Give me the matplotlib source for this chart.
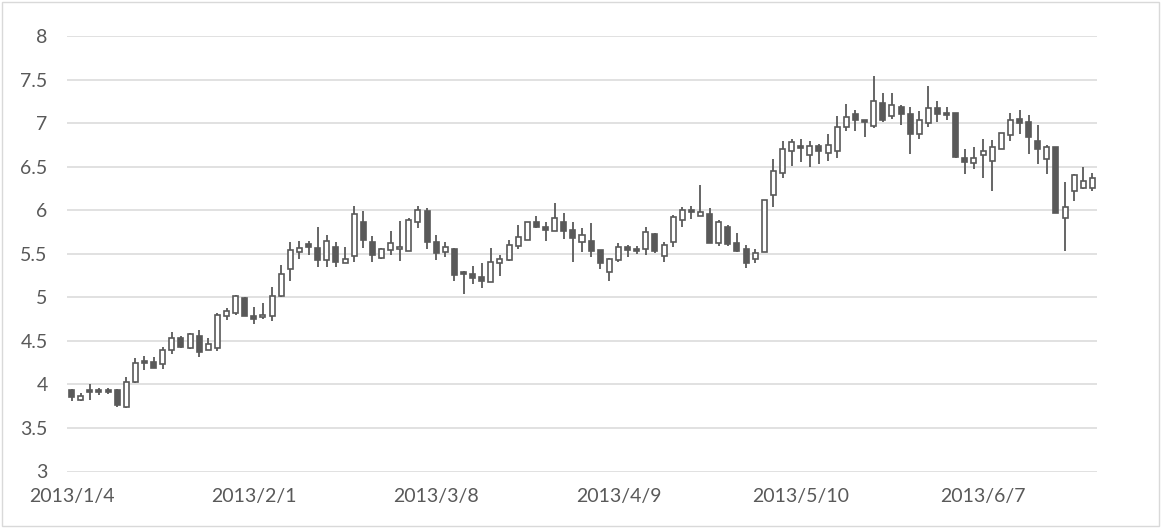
import numpy as np
import matplotlib.pyplot as plt
from matplotlib.patches import Rectangle

# daily OHLC (trading days from 2013/1/4)
opens = [3.94, 3.82, 3.94, 3.93, 3.93, 3.94, 3.74, 4.03, 4.27, 4.26,
         4.23, 4.40, 4.53, 4.42, 4.55, 4.40, 4.42, 4.79, 4.82, 4.99,
         4.78, 4.77, 4.78, 5.01, 5.33, 5.52, 5.61, 5.57, 5.43, 5.58,
         5.39, 5.47, 5.87, 5.64, 5.45, 5.54, 5.55, 5.53, 5.86, 5.99,
         5.63, 5.52, 5.56, 5.29, 5.27, 5.23, 5.18, 5.39, 5.43, 5.59,
         5.66, 5.86, 5.81, 5.76, 5.87, 5.77, 5.64, 5.65, 5.54, 5.29,
         5.43, 5.58, 5.56, 5.55, 5.73, 5.47, 5.64, 5.89, 6.00, 5.93,
         5.96, 5.62, 5.81, 5.62, 5.55, 5.44, 5.52, 6.18, 6.43, 6.68,
         6.74, 6.63, 6.74, 6.66, 6.68, 6.96, 7.11, 7.03, 6.97, 7.23,
         7.08, 7.19, 7.11, 6.88, 7.00, 7.17, 7.12, 7.12, 6.60, 6.54,
         6.63, 6.57, 6.70, 6.86, 7.05, 7.01, 6.80, 6.59, 6.72, 5.91,
         6.22, 6.26, 6.26]
highs = [3.95, 3.90, 4.01, 3.96, 3.96, 3.95, 4.08, 4.30, 4.33, 4.32,
         4.43, 4.60, 4.55, 4.59, 4.62, 4.53, 4.82, 4.88, 5.03, 5.00,
         4.89, 4.93, 5.12, 5.37, 5.63, 5.65, 5.65, 5.81, 5.71, 5.64,
         5.58, 6.05, 5.99, 5.70, 5.57, 5.76, 5.88, 5.91, 6.05, 6.02,
         5.72, 5.64, 5.57, 5.30, 5.36, 5.39, 5.57, 5.48, 5.66, 5.83,
         5.87, 5.93, 5.87, 6.08, 5.97, 5.87, 5.80, 5.85, 5.54, 5.45,
         5.62, 5.60, 5.59, 5.81, 5.74, 5.64, 5.94, 6.04, 6.05, 6.29,
         6.02, 5.89, 5.83, 5.74, 5.60, 5.55, 6.12, 6.59, 6.80, 6.82,
         6.82, 6.79, 6.76, 6.87, 7.08, 7.22, 7.15, 7.04, 7.54, 7.34,
         7.35, 7.21, 7.19, 7.14, 7.43, 7.25, 7.19, 7.12, 6.70, 6.73,
         6.82, 6.81, 6.89, 7.12, 7.15, 7.09, 6.98, 6.75, 6.72, 6.32,
         6.42, 6.50, 6.43]
lows = [3.81, 3.81, 3.82, 3.88, 3.89, 3.74, 3.73, 4.02, 4.16, 4.19,
        4.18, 4.35, 4.42, 4.41, 4.32, 4.39, 4.38, 4.74, 4.80, 4.78,
        4.69, 4.75, 4.73, 5.00, 5.19, 5.44, 5.49, 5.35, 5.35, 5.35,
        5.39, 5.40, 5.57, 5.40, 5.44, 5.49, 5.42, 5.53, 5.79, 5.56,
        5.43, 5.46, 5.19, 5.04, 5.15, 5.11, 5.18, 5.25, 5.42, 5.56,
        5.66, 5.79, 5.65, 5.76, 5.67, 5.40, 5.52, 5.46, 5.33, 5.19,
        5.41, 5.46, 5.50, 5.49, 5.51, 5.41, 5.58, 5.81, 5.90, 5.93,
        5.62, 5.59, 5.59, 5.52, 5.34, 5.39, 5.52, 6.04, 6.37, 6.51,
        6.55, 6.50, 6.53, 6.57, 6.60, 6.91, 6.91, 6.84, 6.94, 7.01,
        7.05, 6.98, 6.64, 6.82, 6.96, 7.01, 7.04, 6.60, 6.41, 6.47,
        6.37, 6.22, 6.70, 6.80, 6.87, 6.64, 6.53, 6.41, 5.97, 5.53,
        6.10, 6.24, 6.22]
closes = [3.85, 3.87, 3.91, 3.91, 3.91, 3.76, 4.03, 4.24, 4.24, 4.19,
          4.40, 4.53, 4.43, 4.58, 4.37, 4.46, 4.80, 4.84, 5.01, 4.79,
          4.75, 4.80, 5.02, 5.27, 5.54, 5.57, 5.58, 5.43, 5.65, 5.41,
          5.44, 5.96, 5.66, 5.48, 5.55, 5.62, 5.58, 5.89, 6.00, 5.64,
          5.51, 5.58, 5.26, 5.27, 5.22, 5.19, 5.40, 5.44, 5.60, 5.69,
          5.86, 5.81, 5.77, 5.91, 5.76, 5.68, 5.71, 5.53, 5.39, 5.44,
          5.58, 5.54, 5.53, 5.75, 5.53, 5.60, 5.92, 6.00, 5.98, 5.98,
          5.62, 5.86, 5.61, 5.53, 5.39, 5.51, 6.12, 6.45, 6.70, 6.78,
          6.71, 6.74, 6.68, 6.75, 6.96, 7.07, 7.04, 7.01, 7.25, 7.04,
          7.21, 7.10, 6.88, 7.03, 7.17, 7.11, 7.09, 6.61, 6.55, 6.60,
          6.68, 6.72, 6.89, 7.03, 7.00, 6.84, 6.70, 6.72, 5.97, 6.04,
          6.40, 6.34, 6.37]

tick_labels = ['2013/1/4', '2013/2/1', '2013/3/8', '2013/4/9', '2013/5/10', '2013/6/7']

o = np.array(opens)
h = np.array(highs)
l = np.array(lows)
c = np.array(closes)
x = np.arange(len(o))

plt.rcParams['font.family'] = ['Lato', 'DejaVu Sans']
grey = '#595959'

fig = plt.figure(figsize=(11.61, 5.28), dpi=100)
ax = fig.add_axes([67/1161, 1 - 471.5/528, 1030/1161, 435.5/528])

# wicks
ax.vlines(x, l, h, color=grey, linewidth=1.3, zorder=2)

# bodies: white when close >= open, filled when down
up = c >= o
bottom = np.minimum(o, c)
height = np.abs(c - o)
ax.bar(x[up], height[up], bottom=bottom[up], width=0.55,
       color='white', edgecolor=grey, linewidth=1.2, zorder=3)
ax.bar(x[~up], height[~up], bottom=bottom[~up], width=0.55,
       color=grey, edgecolor=grey, linewidth=1.2, zorder=3)

ax.set_xlim(-0.5, len(o) - 0.5)
ax.set_ylim(3, 8)
ax.set_yticks(np.arange(3, 8.01, 0.5))
ax.set_yticklabels(['3', '3.5', '4', '4.5', '5', '5.5', '6', '6.5', '7', '7.5', '8'])
ax.set_xticks(range(0, len(o), 20))
ax.set_xticklabels(tick_labels)

ax.grid(axis='y', color='#d9d9d9', linewidth=1.1, zorder=0)
ax.set_axisbelow(True)
for s in ax.spines.values():
    s.set_visible(False)
ax.tick_params(axis='both', length=0, colors=grey, labelsize=14)
ax.tick_params(axis='y', pad=14)
ax.tick_params(axis='x', pad=12)

# chart border
fig.patches.append(Rectangle((0.002, 0.003), 0.996, 0.994, transform=fig.transFigure,
                             fill=False, edgecolor='#d9d9d9', linewidth=1))

fig.savefig('out.png', dpi=100)
